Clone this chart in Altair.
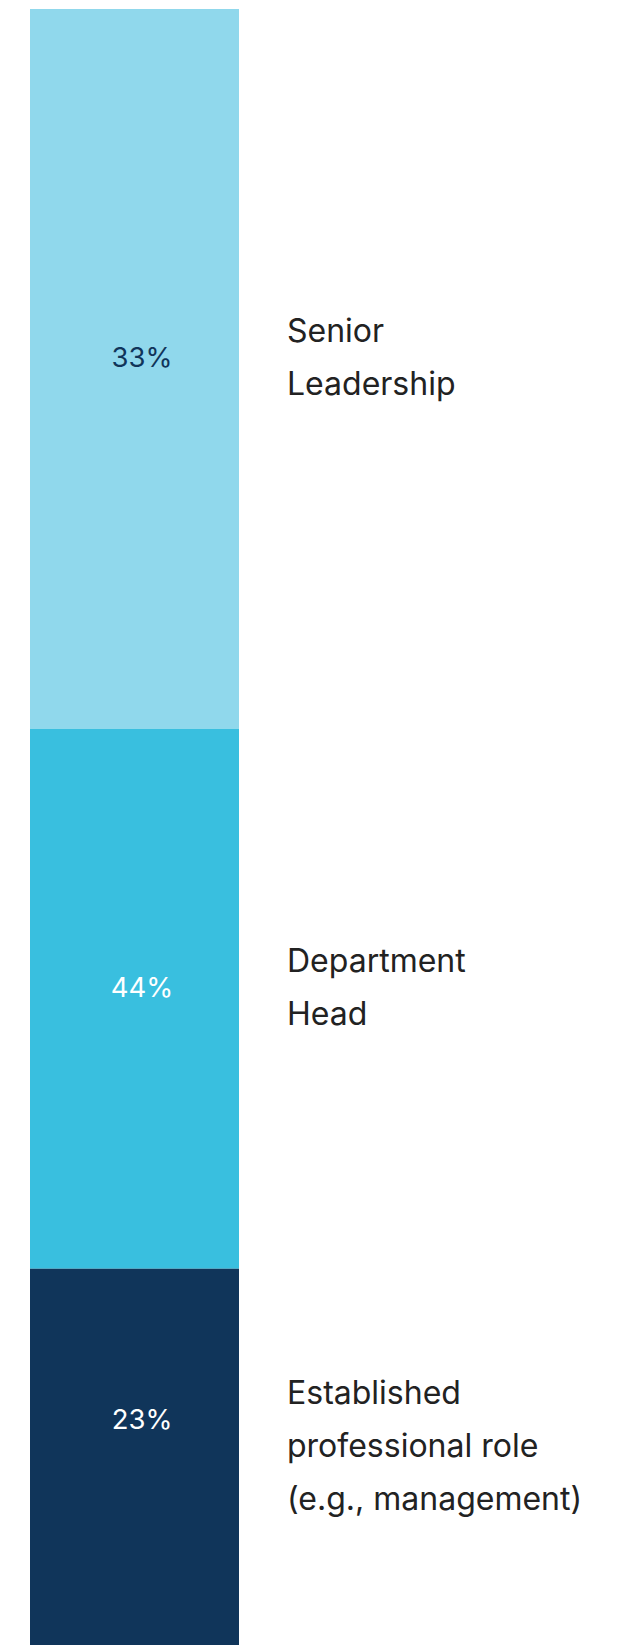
import altair as alt

categories = ["Senior Leadership", "Department Head", "Established professional role (e.g., management)"]
label_texts = ["Senior\nLeadership", "Department\nHead", "Established\nprofessional role\n(e.g., management)"]
segment_values = [44, 33, 23]
pct_labels = ["33%", "44%", "23%"]
seg_colors = ["#90D8EC", "#39BFDF", "#10355A"]
pct_colors = ["#10355A", "#FFFFFF", "#FFFFFF"]

rows = [
    {"order": i, "category": c, "label": l, "value": v, "pct": p, "pct_color": pc}
    for i, (c, l, v, p, pc) in enumerate(zip(categories, label_texts, segment_values, pct_labels, pct_colors))
]

FONT = "Inter"
LINE_H = 53
BAR_TOP = 9
BAR_BOTTOM = 1645
PX_PER_UNIT = (BAR_BOTTOM - BAR_TOP) / 100

base = (
    alt.Chart(alt.Data(values=rows))
    .transform_window(cum="sum(value)", sort=[alt.SortField("order")], frame=[None, 0])
    .transform_calculate(
        start="datum.cum - datum.value",
        mid="datum.cum - datum.value / 2",
        nlines="length(split(datum.label, '\\n'))",
    )
    .transform_calculate(anchor=f"datum.mid - (datum.nlines - 1) * {LINE_H} / 2 / {PX_PER_UNIT}")
)

yscale = alt.Scale(domain=[0, 100], range=[BAR_TOP, BAR_BOTTOM], zero=False, nice=False)

bars = base.mark_rect().encode(
    x=alt.value(30),
    x2=alt.value(239),
    y=alt.Y("start:Q", scale=yscale, axis=None),
    y2="cum:Q",
    color=alt.Color("category:N", scale=alt.Scale(domain=categories, range=seg_colors), legend=None),
)

pcts = base.mark_text(font=FONT, fontSize=27.5, align="center", baseline="middle", dy=17).encode(
    x=alt.value(142),
    y=alt.Y("anchor:Q", scale=yscale, axis=None),
    text="pct:N",
    color=alt.Color("pct_color:N", scale=None),
)

labels = base.mark_text(
    font=FONT, fontSize=32, align="left", baseline="middle", dy=-10,
    lineHeight=LINE_H, lineBreak="\n", color="#222222",
).encode(
    x=alt.value(287),
    y=alt.Y("anchor:Q", scale=yscale, axis=None),
    text="label:N",
)

chart = (
    alt.layer(bars, pcts, labels)
    .properties(width=622, height=1645, padding=0, autosize="none", background="white")
    .configure_view(stroke=None)
)

chart.save("out.html", embed_options={"renderer": "svg", "actions": False})
